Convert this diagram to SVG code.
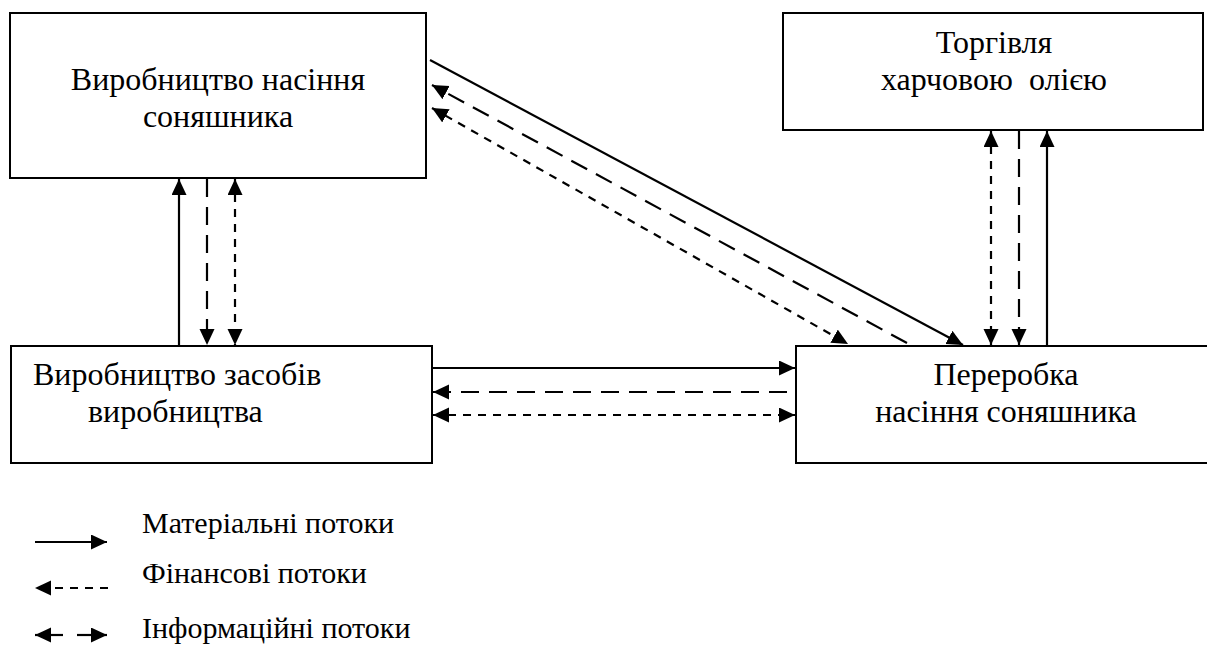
<svg xmlns="http://www.w3.org/2000/svg" width="1207" height="648" viewBox="0 0 1207 648">
<style>
.box{fill:#fff;stroke:#000;stroke-width:2}
.t{font-family:'Liberation Serif','Times New Roman',serif;font-size:32px;fill:#000}
.lg{font-family:'Liberation Serif','Times New Roman',serif;font-size:30px;fill:#000}
.c{text-anchor:middle}
.ln{fill:none;stroke:#000;stroke-width:2.2}
.ld{stroke-dasharray:18 10}
.sd{stroke-dasharray:8 7}
.ad{marker-end:url(#ah)}
.as{marker-start:url(#ah)}
</style>
<defs>
<marker id="ah" markerUnits="userSpaceOnUse" markerWidth="18" markerHeight="16" refX="16" refY="7.5" orient="auto-start-reverse" viewBox="0 0 18 16">
<path d="M0,0 L16,7.5 L0,15 z" fill="#000"/>
</marker>
</defs>
<rect width="1207" height="648" fill="#fff"/>
<g id="node-seeds">
<rect class="box" x="10" y="13" width="416" height="165"/>
<text class="t c" x="218" y="90">Виробництво насіння</text>
<text class="t c" x="218" y="127">соняшника</text>
</g>
<g id="node-trade">
<rect class="box" x="783" y="13" width="420" height="117"/>
<text class="t c" x="994" y="53">Торгівля</text>
<text class="t c" x="994" y="90" xml:space="preserve">харчовою  олією</text>
</g>
<g id="node-means">
<rect class="box" x="11" y="346" width="421" height="117"/>
<text class="t" x="33" y="385">Виробництво засобів</text>
<text class="t" x="88" y="422">виробництва</text>
</g>
<g id="node-processing">
<path class="box" d="M1210,346 H796 V463 H1210"/>
<text class="t c" x="1006" y="385">Переробка</text>
<text class="t c" x="1006" y="422">насіння соняшника</text>
</g>
<g id="connectors">
<line class="ln ad" x1="179" y1="346" x2="179" y2="179"/>
<line class="ln ld ad" x1="207" y1="179" x2="207" y2="345"/>
<line class="ln sd ad as" x1="235" y1="179" x2="235" y2="345"/>
<line class="ln sd ad as" x1="991" y1="131" x2="991" y2="345"/>
<line class="ln ld ad" x1="1019" y1="131" x2="1019" y2="345"/>
<line class="ln ad" x1="1047" y1="346" x2="1047" y2="131"/>
<line class="ln ad" x1="432" y1="368" x2="795" y2="368"/>
<line class="ln ld ad" x1="787" y1="392" x2="433" y2="392"/>
<line class="ln sd ad as" x1="433" y1="415" x2="795" y2="415"/>
<line class="ln ad" x1="430" y1="60" x2="963" y2="345"/>
<line class="ln ld ad" x1="907" y1="343" x2="432" y2="85"/>
<line class="ln sd ad as" x1="432" y1="108" x2="848" y2="344"/>
</g>
<g id="legend">
<line class="ln ad" x1="35" y1="542" x2="107" y2="542"/>
<line class="ln sd ad" x1="108" y1="588" x2="35" y2="588"/>
<line class="ln ad" x1="63" y1="635" x2="35" y2="635"/>
<line class="ln ad" x1="77" y1="635" x2="107" y2="635"/>
<text class="lg" x="142" y="533">Матеріальні потоки</text>
<text class="lg" x="142" y="583">Фінансові потоки</text>
<text class="lg" x="142" y="638">Інформаційні потоки</text>
</g>
</svg>
